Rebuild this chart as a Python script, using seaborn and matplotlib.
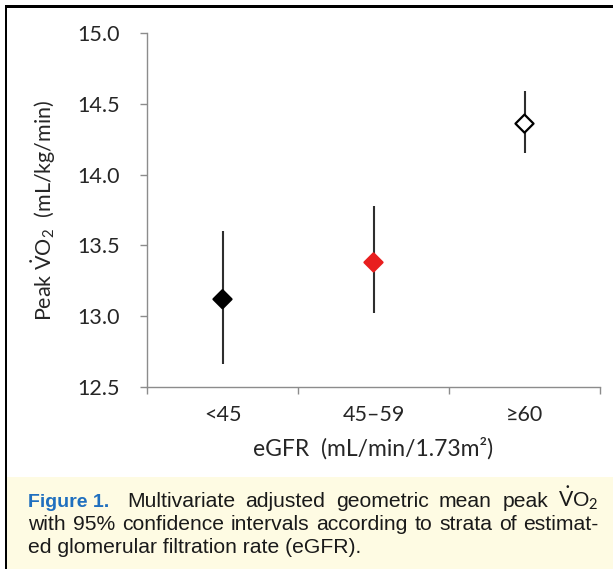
import matplotlib
matplotlib.use("Agg")
import matplotlib.pyplot as plt
import seaborn as sns
import pandas as pd
from matplotlib.patches import Rectangle
from matplotlib.ticker import FixedLocator

# ---- data ----
categories = ["<45", "45\u201359", "\u226560"]
means = [13.12, 13.38, 14.36]
ci_low = [12.66, 13.02, 14.15]
ci_high = [13.60, 13.78, 14.59]
face_colors = ["#000000", "#e81e1e", "#ffffff"]
edge_colors = ["#000000", "#e81e1e", "#000000"]
y_ticks = [12.5, 13.0, 13.5, 14.0, 14.5, 15.0]

sns.set_theme(style="white")
plt.rcParams["font.family"] = ["Lato", "DejaVu Sans"]
plt.rcParams["mathtext.fontset"] = "custom"
plt.rcParams["mathtext.rm"] = "Lato"
plt.rcParams["mathtext.it"] = "Lato:italic"
plt.rcParams["mathtext.bf"] = "Lato:bold"

W, H = 613, 569
fig = plt.figure(figsize=(W / 100, H / 100), dpi=100)
fig.patch.set_facecolor("white")

# frame borders and caption background
fig.add_artist(Rectangle((4.5 / W, 0), 2.4 / W, 1 - 5 / H, transform=fig.transFigure,
                         facecolor="black", edgecolor="none"))
fig.add_artist(Rectangle((4.5 / W, 1 - 7.5 / H), 1, 2.5 / H, transform=fig.transFigure,
                         facecolor="black", edgecolor="none"))
fig.add_artist(Rectangle((6.9 / W, 0), 1, 92 / H, transform=fig.transFigure,
                         facecolor="#fefbe3", edgecolor="none"))

left, right, top, bottom = 147, 600, 33, 387
ax = fig.add_axes([left / W, 1 - bottom / H, (right - left) / W, (bottom - top) / H])

df = pd.DataFrame({"eGFR": categories, "mean": means, "lo": ci_low, "hi": ci_high})

ax.vlines(range(len(categories)), df["lo"], df["hi"], color="#2e2e2e", lw=1.5, zorder=2)
sns.scatterplot(data=df, x="eGFR", y="mean", hue="eGFR",
                palette=dict(zip(categories, face_colors)),
                marker="D", s=85, edgecolor=edge_colors, linewidth=1.6,
                legend=False, ax=ax, zorder=3)

ax.set_xlim(-0.5, len(categories) - 0.5)
ax.set_ylim(12.5, 15.0)
ax.set_yticks(y_ticks)
ax.set_yticklabels([f"{v:.1f}" for v in y_ticks])
ax.set_xticks(range(len(categories)))
ax.set_xticklabels(categories)
ax.xaxis.set_minor_locator(FixedLocator([i - 0.5 for i in range(len(categories) + 1)]))

spine_col = "#8c8c8c"
for s in ["top", "right"]:
    ax.spines[s].set_visible(False)
for s in ["left", "bottom"]:
    ax.spines[s].set_color(spine_col)
    ax.spines[s].set_linewidth(1.0)

txt_col = "#262626"
ax.tick_params(axis="y", which="major", direction="out", length=5, width=1,
               color=spine_col, labelsize=15.5, labelcolor=txt_col, pad=14.5, left=True)
ax.tick_params(axis="x", which="major", length=0, labelsize=15.5, labelcolor=txt_col, pad=13)
ax.tick_params(axis="x", which="minor", direction="out", length=5, width=1,
               color=spine_col, bottom=True)

ax.set_xlabel("eGFR  (mL/min/1.73m\u00b2)", fontsize=16.5, color=txt_col, labelpad=9)
ax.set_ylabel(r"Peak $\dot{\mathrm{V}}$O$_2$  (mL/kg/min)", fontsize=15.5, color=txt_col, labelpad=14)
ax.set_facecolor("white")

# ---- caption ----
cap_font = dict(family=["Liberation Sans", "DejaVu Sans"], fontsize=15.2, color="#1a1a1a")
lines = [
    ["Multivariate", "adjusted", "geometric", "mean", "peak", r"$\dot{\mathrm{V}}$O$_2$"],
    ["with", "95%", "confidence", "intervals", "according", "to", "strata", "of", "estimat-"],
]
renderer = fig.canvas.get_renderer()


def place_justified(words, x0, x1, ybase):
    objs = [fig.text(0, 0, w, transform=None, va="baseline", ha="left", **cap_font) for w in words]
    widths = [o.get_window_extent(renderer).width for o in objs]
    gap = (x1 - x0 - sum(widths)) / (len(words) - 1)
    x = x0
    for o, wd in zip(objs, widths):
        o.set_position((x, ybase))
        x += wd + gap


fig.text(28, H - 507, "Figure 1.", transform=None, va="baseline", ha="left",
         family=["Liberation Sans Narrow", "Liberation Sans"], fontweight="bold",
         fontsize=14, color="#1f6fbf")
place_justified(lines[0], 127, 599, H - 507)
place_justified(lines[1], 28, 599, H - 530)
fig.text(28, H - 553, "ed glomerular filtration rate (eGFR).", transform=None,
         va="baseline", ha="left", **cap_font)

fig.savefig("out.png", dpi=100)
